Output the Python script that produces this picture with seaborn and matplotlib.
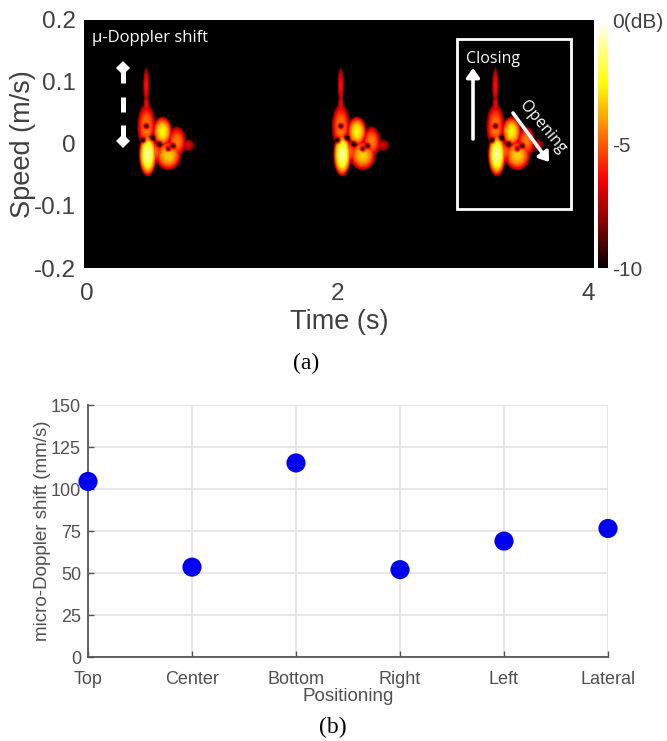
import numpy as np
import pandas as pd
import matplotlib
matplotlib.use("Agg")
import matplotlib.pyplot as plt
from matplotlib.colors import LinearSegmentedColormap
import seaborn as sns

sns.set_theme(style="white")
plt.rcParams['font.family'] = ['Liberation Sans', 'DejaVu Sans']

# ---- panel (a): spectrogram read as lobes (time s, speed m/s, half-width s, half-width m/s, dB above floor)
lobe_t = [0.470, 0.471, 0.471, 0.482, 0.599, 0.646, 0.716, 0.806, 0.545]
lobe_v = [0.095, 0.062, 0.028, -0.017, 0.020, -0.018, 0.004, -0.002, -0.012]
lobe_st = [0.026, 0.024, 0.074, 0.072, 0.080, 0.106, 0.074, 0.054, 0.066]
lobe_sv = [0.030, 0.020, 0.038, 0.036, 0.025, 0.025, 0.025, 0.010, 0.020]
lobe_db = [3.8, 3.6, 5.6, 9.0, 7.4, 6.8, 5.6, 3.0, 5.0]
hole_t = [0.471, 0.447, 0.519, 0.575, 0.646, 0.686]
hole_v = [0.029, 0.006, 0.010, 0.000, -0.008, -0.003]
hole_db = [6.0, 5.5, 5.5, 5.5, 5.5, 5.5]
burst_start = [0.0, 1.556, 2.793]
time_ticks = [0, 2, 4]
speed_ticks = [0.2, 0.1, 0, -0.1, -0.2]
speed_labels = ['0.2', '0.1', '0', '-0.1', '-0.2']
cbar_ticks = [0, -5, -10]
cbar_labels = ['0(dB)', '-5', '-10']

# ---- panel (b)
positions = ['Top', 'Center', 'Bottom', 'Right', 'Left', 'Lateral']
shift_mm_s = [104.5, 53.5, 115.5, 52, 69, 76.5]
shift_ticks = [0, 25, 50, 75, 100, 125, 150]

W, H = 667, 741
fig = plt.figure(figsize=(W / 100, H / 100), dpi=100)
def box(l, t, r, b):
    return [l / W, 1 - b / H, (r - l) / W, (b - t) / H]

ax = fig.add_axes(box(84, 20, 594, 268))
cax = fig.add_axes(box(598, 20, 608, 268))

t_lo, t_hi = -0.024, 4.048
tg = np.linspace(t_lo, t_hi, 510)
vg = np.linspace(0.2, -0.2, 248)
T, V = np.meshgrid(tg, vg)
level = np.zeros_like(T)
for t0 in burst_start:
    for a, b, c, d, e in zip(lobe_t, lobe_v, lobe_st, lobe_sv, lobe_db):
        r2 = ((T - t0 - a) / c) ** 2 + ((V - b) / d) ** 2
        level = np.maximum(level, e * np.clip(1 - r2, 0, 1) ** 0.6)
    for a, b, e in zip(hole_t, hole_v, hole_db):
        level -= e * np.exp(-((T - t0 - a) / 0.013) ** 2 / 2 - ((V - b) / 0.0028) ** 2 / 2)
db = np.clip(level, 0, 10) - 10
hot = plt.get_cmap('hot')
cmap = LinearSegmentedColormap.from_list('hot0', [(0, 0, 0)] + [hot(i / 20) for i in range(1, 21)])
sns.heatmap(pd.DataFrame(db, index=vg, columns=tg), ax=ax, cbar_ax=cax, cmap=cmap,
            vmin=-10, vmax=0, xticklabels=False, yticklabels=False, rasterized=True)

def cx(t):
    return (t - t_lo) / (t_hi - t_lo) * len(tg)
def cy(v):
    return (0.2 - v) / 0.4 * len(vg)
def px(x):   # figure pixel column to heatmap cell column
    return x - 84
def py(y):   # figure pixel row to heatmap cell row
    return y - 20

ax.set_xticks([cx(t) for t in time_ticks])
ax.set_xticklabels([str(t) for t in time_ticks])
ax.set_yticks([cy(v) for v in speed_ticks])
ax.set_yticklabels(speed_labels)
ax.tick_params(axis='both', labelsize=17.5, colors='#404040', length=0, pad=6)
ax.tick_params(axis='x', pad=11)
ax.set_xlabel('Time (s)', fontsize=19.5, color='#404040', labelpad=3)
ax.set_ylabel('Speed (m/s)', fontsize=19.5, color='#404040', labelpad=-2, y=0.5)

cax.set_yticks(cbar_ticks)
cax.set_yticklabels(cbar_labels)
cax.tick_params(labelsize=15, colors='#404040', length=0, pad=3)
for s in cax.spines.values():
    s.set_visible(False)

# annotations
font = ['Open Sans', 'DejaVu Sans']
ax.text(px(92), py(38), 'µ-Doppler shift', color='white', fontsize=12, family=font, va='center')
arrow = dict(arrowstyle='-|>,head_width=0.32,head_length=0.45', color='white', lw=2.6,
             shrinkA=0, shrinkB=0)
ax.plot([px(122.5)] * 2, [py(66), py(83)], color='white', lw=3.6, solid_capstyle='butt')
ax.plot([px(122.5)] * 2, [py(97), py(112)], color='white', lw=3.6, solid_capstyle='butt')
ax.plot([px(122.5)] * 2, [py(125), py(142)], color='white', lw=3.6, solid_capstyle='butt')
ax.plot([px(122.5)] * 2, [py(68), py(141)], ls='none', marker='D', ms=7.5, color='white', mew=0)
ax.add_patch(plt.Rectangle((px(457), py(39)), 114, 170, fill=False, ec='white', lw=2))
ax.text(px(466), py(59), 'Closing', color='white', fontsize=11.5, family=font, va='center')
ax.annotate('', xy=(px(473), py(68)), xytext=(px(473), py(139)), arrowprops=arrow)
ax.annotate('', xy=(px(549), py(162)), xytext=(px(513), py(113)), arrowprops=arrow)
ax.text(px(543), py(127), 'Opening', color='white', fontsize=11.5, rotation=-50,
        family=font, ha='center', va='center', rotation_mode='anchor')

# panel (b)
bx = fig.add_axes(box(88, 405, 608, 657))
df = pd.DataFrame({'pos': np.arange(len(positions)), 'shift': shift_mm_s})
sns.scatterplot(data=df, x='pos', y='shift', ax=bx, s=190, color='#0000f0', edgecolor='none',
                clip_on=False, zorder=5)
bx.set_xlim(0, len(positions) - 1)
bx.set_ylim(0, 150)
bx.set_xticks(df['pos'])
bx.set_xticklabels(positions)
bx.set_yticks(shift_ticks)
bx.grid(True, color='#e4e4e4', lw=1.2)
for name, s in bx.spines.items():
    if name in ('left', 'bottom'):
        s.set_color('#555555'); s.set_linewidth(1.3)
    else:
        s.set_visible(False)
bx.tick_params(axis='both', labelsize=13, colors='#505050', direction='in', length=4,
               width=1, color='#555555', pad=5, left=True, bottom=True)
bx.tick_params(axis='x', pad=10)
bx.set_xlabel('Positioning', fontsize=13.5, color='#505050', labelpad=0)
bx.set_ylabel('micro-Doppler shift (mm/s)', fontsize=13.5, color='#505050', labelpad=0)
bx.set_axisbelow(True)

fig.text(306 / W, 1 - 363 / H, '(a)', family=['Liberation Serif'], fontsize=17, color='black',
         ha='center', va='center')
fig.text(333 / W, 1 - 727 / H, '(b)', family=['Liberation Serif'], fontsize=17, color='black',
         ha='center', va='center')

fig.savefig('out.png', dpi=100)
